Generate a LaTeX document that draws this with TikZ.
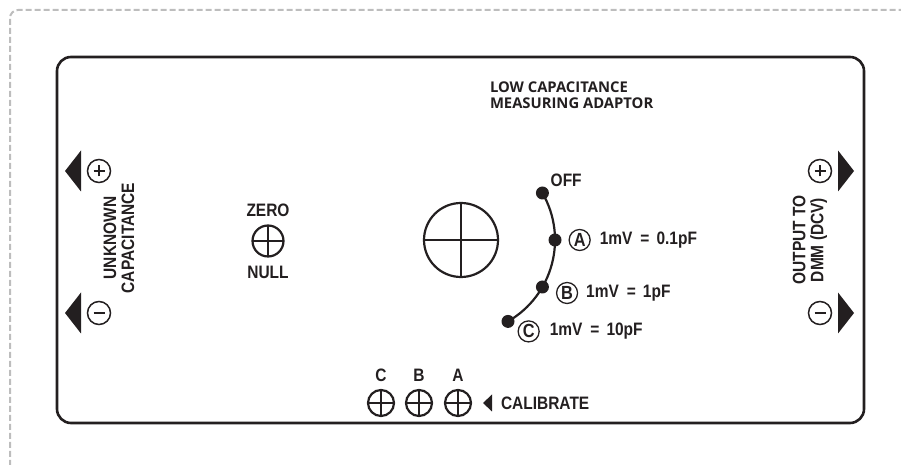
\documentclass[tikz,border=0pt]{standalone}
\usepackage{fontspec}
\setsansfont{Liberation Sans}
\newfontfamily\labfont{Liberation Sans}[FakeStretch=0.86]
\newfontfamily\titlefont{Open Sans}
\usetikzlibrary{positioning, calc}
\definecolor{ink}{HTML}{231F20}
\definecolor{cdash}{HTML}{BDBDBD}
\newcommand{\eqsign}{\hspace{8pt}=\hspace{7pt}}
\tikzset{
  every picture/.style={x=1pt, y=1pt, line width=2pt},
  frame/.style={draw=cdash, line width=2pt, dash pattern=on 6pt off 3pt, rounded corners=8pt},
  panel/.style={draw=ink, line width=2.6pt, rounded corners=14pt},
  lab/.style={font=\labfont\bfseries\fontsize{18}{18}\selectfont, text=ink, inner sep=0pt, align=center},
  title/.style={font=\titlefont\bfseries\fontsize{14.8}{15.5}\selectfont, text=ink, inner sep=0pt, align=left},
  knob/.style={circle, draw=ink, line width=2.2pt, minimum size=#1, inner sep=0pt,
    path picture={\draw[ink, line width=2.2pt] (path picture bounding box.north) -- (path picture bounding box.south)
      (path picture bounding box.west) -- (path picture bounding box.east);}},
  knob/.default=26pt,
  terminal/.style={circle, draw=ink, line width=1.5pt, minimum size=23pt, inner sep=0pt},
  plus/.style={terminal, path picture={\draw[ink, line width=2.6pt]
      ([xshift=-5.5pt]path picture bounding box.center) -- ([xshift=5.5pt]path picture bounding box.center)
      ([yshift=-5.5pt]path picture bounding box.center) -- ([yshift=5.5pt]path picture bounding box.center);}},
  minus/.style={terminal, path picture={\draw[ink, line width=2.6pt]
      ([xshift=-5.5pt]path picture bounding box.center) -- ([xshift=5.5pt]path picture bounding box.center);}},
  ring/.style={circle, draw=ink, line width=1.3pt, minimum size=21pt, inner sep=0pt,
    font=\labfont\bfseries\fontsize{19}{19}\selectfont, text=ink},
  dot/.style={circle, fill=ink, minimum size=13pt, inner sep=0pt},
  wire/.style={draw=ink, line width=2.2pt},
}

\begin{document}
\begin{tikzpicture}
  \useasboundingbox (0,0) rectangle (901,465);
  \draw[frame] (10,-10) -- (10,455) -- (911,455);
  \draw[panel] (57,42) rectangle (864,408);
  \node[title, anchor=north west] (ttl) at (489,384) {LOW CAPACITANCE\\MEASURING ADAPTOR};
  % jacks, in on the left and out on the right
  \foreach \side/\x/\d in {in/99/-1, out/820/1} {
    \node[plus] (\side p) at (\x,294) {};
    \node[minus] (\side m) at (\x,152) {};
    \foreach \t in {p,m}
      \fill[ink, shift={(\side\t.center)}] (18*\d,20.5) -- (34*\d,0) -- (18*\d,-20.5) -- cycle;
  }
  \node[lab, rotate=90] (unk) at (119,227) {UNKNOWN\\CAPACITANCE};
  \node[lab, rotate=90] (dmm) at (810,225) {OUTPUT TO\\DMM (DCV)};
  % zero null
  \node[knob=31pt] (zero) at (268,224) {};
  \node[lab, above=6.5pt of zero] (zerot) {ZERO};
  \node[lab, below=7.5pt of zero] (nullt) {NULL};
  % range switch
  \node[knob=74pt] (range) at (461,225) {};
  \draw[wire] ([shift={(30:94)}]range.center) arc[start angle=30, end angle=-60, radius=94];
  \foreach \n/\a in {Off/30, A/0, B/-30, C/-60}
    \node[dot] (d\n) at ([shift={(\a:94)}]range.center) {};
  \node[lab, above right=0pt and 2pt of dOff] (off) {OFF};
  \node[ring, right=6pt of dA] (rA) {A};
  \node[ring, right=6pt of dB, yshift=-6pt] (rB) {B};
  \node[ring, right=2pt of dC, yshift=-10pt] (rC) {C};
  \node[lab, right=8pt of rA] (vA) {1mV\eqsign0.1pF};
  \node[lab, right=7pt of rB] (vB) {1mV\eqsign1pF};
  \node[lab, right=9pt of rC] (vC) {1mV\eqsign10pF};
  % calibrate trimmers
  \foreach \l/\x in {C/381, B/419, A/458} {
    \node[knob] (cal\l) at (\x,62) {};
    \node[lab, above=6pt of cal\l] (cal\l t) {\l};
  }
  \fill[ink, shift={(calA.center)}] (25,0) -- (34,8.5) -- (34,-8.5) -- cycle;
  \node[lab, anchor=west] (calib) at (500,62) {CALIBRATE};
\end{tikzpicture}
\end{document}
